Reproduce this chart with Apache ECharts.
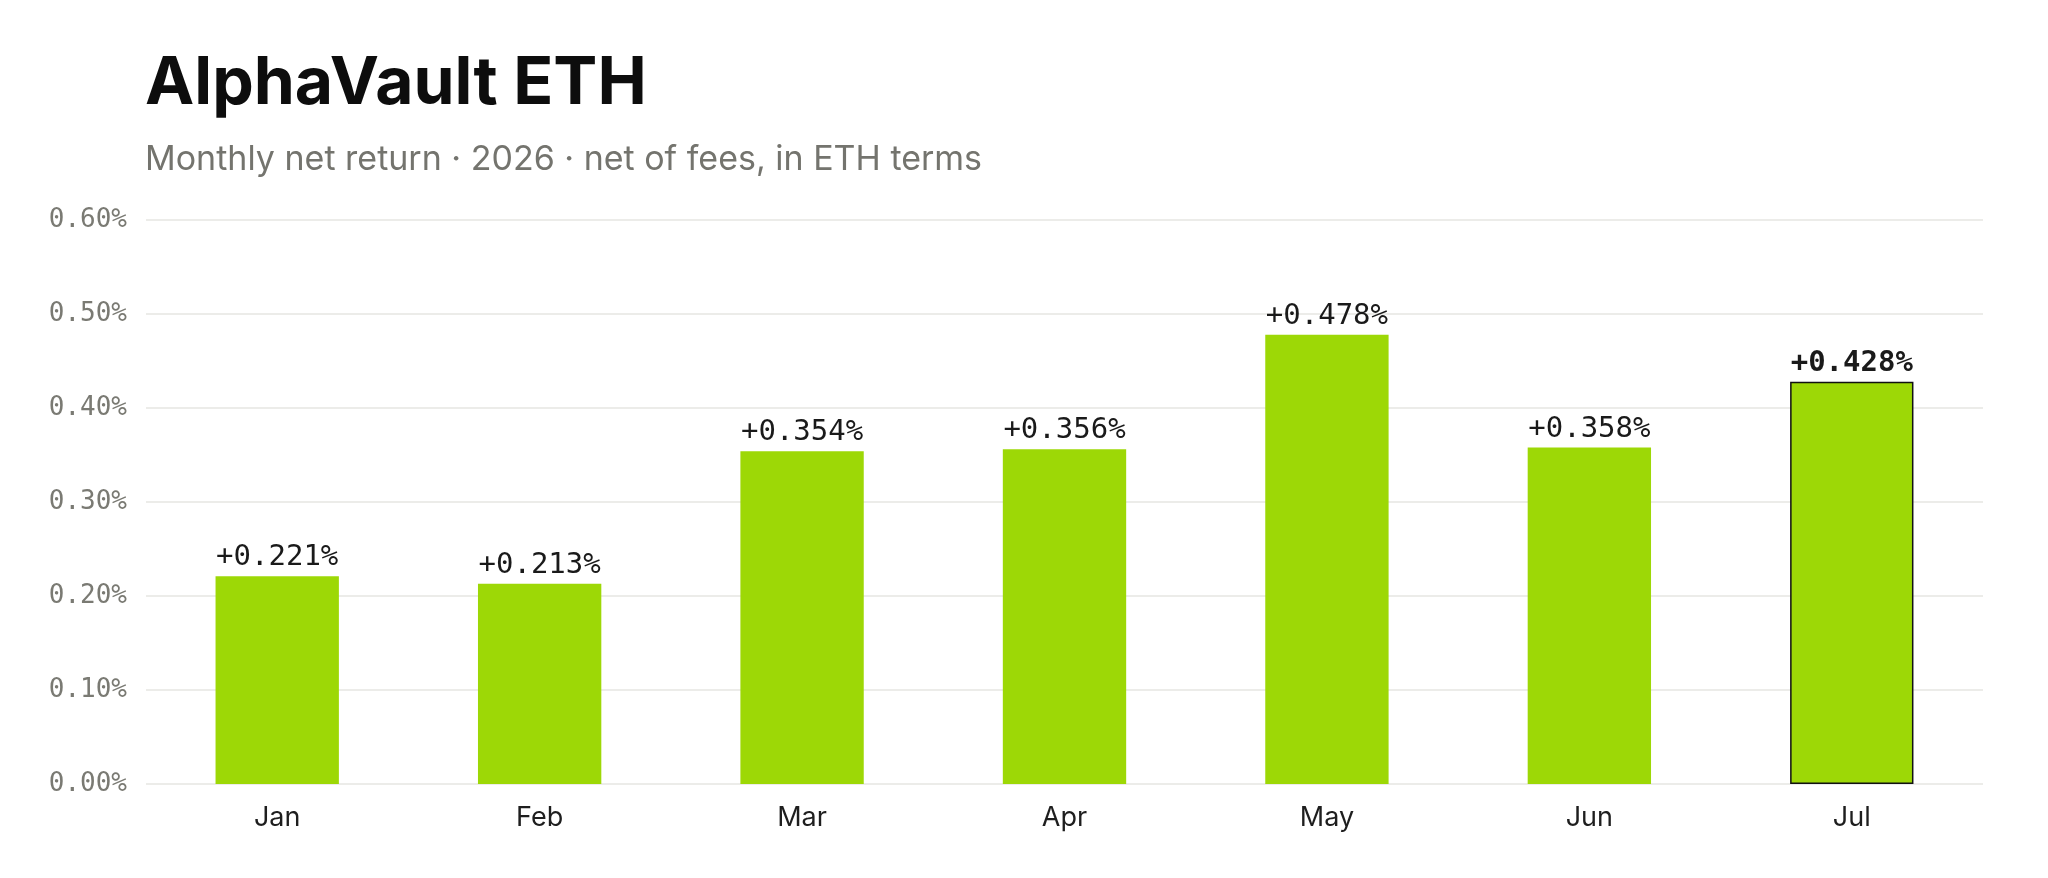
<!DOCTYPE html>
<html>
<head>
<meta charset="utf-8">
<script src="https://cdn.jsdelivr.net/npm/echarts@6/dist/echarts.min.js"></script>
<style>
  html, body { margin: 0; padding: 0; background: #fff; }
  #chart { width: 2048px; height: 878px; }
</style>
</head>
<body>
<div id="chart"></div>
<script type="text/javascript">
var months = ['Jan', 'Feb', 'Mar', 'Apr', 'May', 'Jun', 'Jul'];
var returns = [0.221, 0.213, 0.354, 0.356, 0.478, 0.358, 0.428];
var highlightMonth = 'Jul'; // latest month, outlined + bold label

var barColor = '#9dd806';
var monoFont = '"DejaVu Sans Mono", "Liberation Mono", monospace';
var sansFont = 'Inter, "Noto Sans", sans-serif';

var chart = echarts.init(document.getElementById('chart'));

var barData = returns.map(function (v, i) {
    var item = { value: v };
    if (months[i] === highlightMonth) {
        item.itemStyle = { borderColor: '#111', borderWidth: 1.5 };
        item.label = { fontWeight: 'bold' };
    }
    return item;
});

chart.setOption({
    backgroundColor: '#fff',
    animation: false,
    title: {
        text: 'AlphaVault ETH',
        subtext: 'Monthly net return · 2026 · net of fees, in ETH terms',
        left: 140,
        top: 46,
        itemGap: 26,
        textStyle: {
            fontFamily: sansFont,
            fontSize: 66,
            fontWeight: 'bold',
            color: '#0d0d0d'
        },
        subtextStyle: {
            fontFamily: sansFont,
            fontSize: 34,
            color: '#74746e'
        }
    },
    grid: {
        left: 146,
        right: 65,
        top: 220,
        bottom: 94
    },
    xAxis: {
        type: 'category',
        data: months,
        axisLine: { show: false },
        axisTick: { show: false },
        axisLabel: {
            margin: 20,
            fontFamily: sansFont,
            fontSize: 27,
            color: '#1e1e1e'
        }
    },
    yAxis: {
        type: 'value',
        min: 0,
        max: 0.6,
        interval: 0.1,
        axisLine: { show: false },
        axisTick: { show: false },
        splitLine: { lineStyle: { color: '#e6e6e2', width: 1.5 } },
        axisLabel: {
            margin: 19,
            fontFamily: monoFont,
            fontSize: 26,
            color: '#7a7a73',
            formatter: function (v) { return v.toFixed(2) + '%'; }
        }
    },
    series: [
        {
            type: 'bar',
            data: barData,
            barWidth: '47%',
            itemStyle: { color: barColor },
            label: {
                show: true,
                position: 'top',
                distance: 4,
                fontFamily: monoFont,
                fontSize: 29,
                color: '#1a1a1a',
                formatter: function (p) { return '+' + p.value.toFixed(3) + '%'; }
            }
        }
    ]
});
</script>
</body>
</html>
